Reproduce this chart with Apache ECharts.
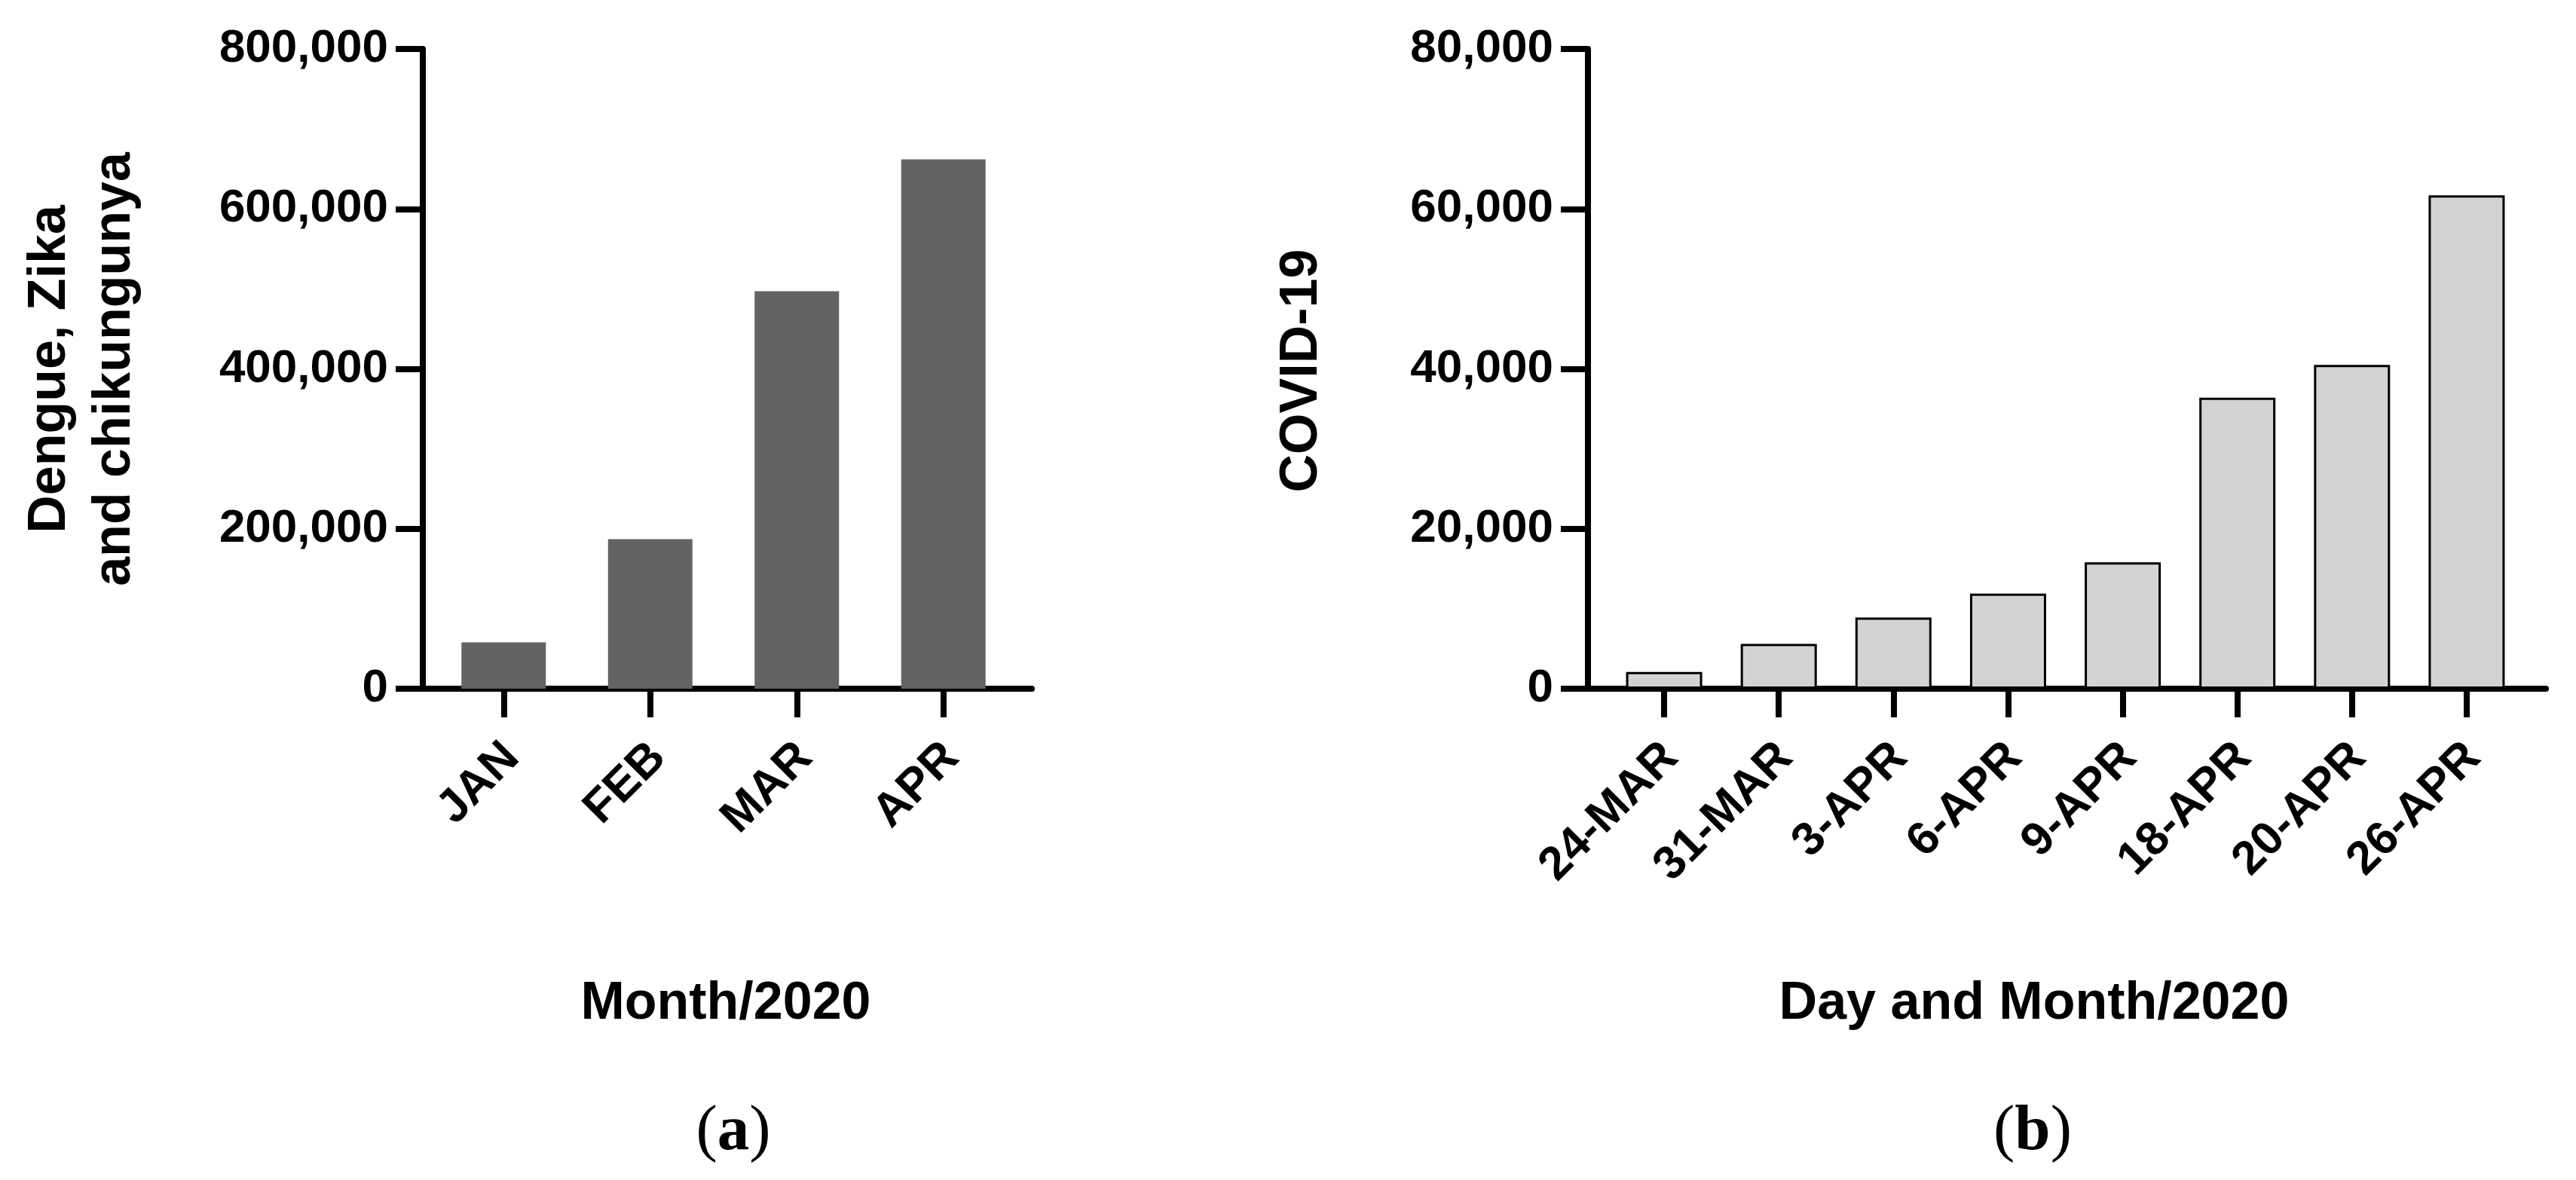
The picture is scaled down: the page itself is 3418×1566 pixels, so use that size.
<!DOCTYPE html>
<html>
<head>
<meta charset="utf-8">
<script src="https://cdn.jsdelivr.net/npm/echarts@6/dist/echarts.min.js"></script>
<style>html,body{margin:0;padding:0;background:#fff;}#c{width:3418px;height:1566px;}</style>
</head>
<body>
<div id="c"></div>
<script>
// ---- data ----
const monthCats = ['JAN', 'FEB', 'MAR', 'APR'];
const arboValues = [58000, 187000, 497000, 662000];
const dayCats = ['24-MAR', '31-MAR', '3-APR', '6-APR', '9-APR', '18-APR', '20-APR', '26-APR'];
const covidValues = [2100, 5600, 8900, 11900, 15800, 36400, 40500, 61700];
const arboAxis = { min: 0, max: 800000, interval: 200000 };
const covidAxis = { min: 0, max: 80000, interval: 20000 };
const yTitleA = 'Dengue, Zika\nand chikungunya';
const yTitleB = 'COVID-19';
const xTitleA = 'Month/2020';
const xTitleB = 'Day and Month/2020';
const panelA = 'a';
const panelB = 'b';

// ---- layout ----
const SANS = '"Liberation Sans", Arial, Helvetica, sans-serif';
const SERIF = '"Liberation Serif", "Times New Roman", serif';
const TOP = 65, H = 849;
const fmt = v => Number(v).toLocaleString('en-US');

function frameX(gi) {
  return { gridIndex: gi, type: 'value', min: 0, max: 1,
    axisLine: { show: true, onZero: false, lineStyle: { color: '#000', width: 8 } },
    axisTick: { show: false }, axisLabel: { show: false }, splitLine: { show: false } };
}
function frameY(gi, ax) {
  return { gridIndex: gi, type: 'value', min: ax.min, max: ax.max, interval: ax.interval,
    axisLine: { show: true, lineStyle: { color: '#000', width: 8 } },
    axisTick: { show: true, inside: false, length: 36, lineStyle: { color: '#000', width: 8 } },
    axisLabel: { show: true, margin: 46, color: '#000', fontFamily: SANS, fontWeight: 'bold', fontSize: 62,
      formatter: fmt },
    splitLine: { show: false } };
}
function plotX(gi, cats) {
  return { gridIndex: gi, type: 'category', data: cats, boundaryGap: true,
    axisLine: { show: false },
    axisTick: { show: true, alignWithLabel: true, inside: false, length: 38, lineStyle: { color: '#000', width: 8 } },
    axisLabel: { show: false }, splitLine: { show: false } };
}
function plotY(gi, ax) {
  return { gridIndex: gi, type: 'value', min: ax.min, max: ax.max, interval: ax.interval, show: false,
    splitLine: { show: false } };
}
function labelX(gi, cats) {
  return { gridIndex: gi, type: 'category', data: cats, boundaryGap: true,
    axisLine: { show: false }, axisTick: { show: false },
    axisLabel: { show: true, interval: 0, rotate: 45, margin: 82, color: '#000',
      fontFamily: SANS, fontWeight: 'bold', fontSize: 62 },
    splitLine: { show: false } };
}
function labelY(gi) {
  return { gridIndex: gi, type: 'value', min: 0, max: 1, show: false, splitLine: { show: false } };
}

const option = {
  backgroundColor: '#fff',
  animation: false,
  grid: [
    { left: 561, width: 808, top: TOP, height: H },
    { left: 571, width: 778, top: TOP, height: H },
    { left: 582, width: 778, top: TOP, height: H },
    { left: 2107, width: 1271, top: TOP, height: H },
    { left: 2132, width: 1217, top: TOP, height: H },
    { left: 2141, width: 1217, top: TOP, height: H }
  ],
  xAxis: [
    frameX(0), plotX(1, monthCats), labelX(2, monthCats),
    frameX(3), plotX(4, dayCats), labelX(5, dayCats)
  ],
  yAxis: [
    frameY(0, arboAxis), plotY(1, arboAxis), labelY(2),
    frameY(3, covidAxis), plotY(4, covidAxis), labelY(5)
  ],
  series: [
    { type: 'bar', xAxisIndex: 1, yAxisIndex: 1, data: arboValues, barWidth: 112,
      itemStyle: { color: '#636363' } },
    { type: 'bar', xAxisIndex: 4, yAxisIndex: 4, data: covidValues, barWidth: 101,
      itemStyle: { color: '#d3d3d3', borderColor: '#000', borderWidth: 3 } }
  ],
  graphic: [
    { type: 'text', x: 110, y: 490, rotation: Math.PI / 2,
      style: { text: yTitleA, textAlign: 'center', textVerticalAlign: 'middle', lineHeight: 86,
        font: 'bold 70px ' + SANS, fill: '#000' } },
    { type: 'text', x: 1728, y: 492, rotation: Math.PI / 2,
      style: { text: yTitleB, textAlign: 'center', textVerticalAlign: 'middle',
        font: 'bold 70px ' + SANS, fill: '#000' } },
    { type: 'text', x: 963, y: 1333,
      style: { text: xTitleA, textAlign: 'center', textVerticalAlign: 'middle',
        font: 'bold 70px ' + SANS, fill: '#000' } },
    { type: 'text', x: 2699, y: 1333,
      style: { text: xTitleB, textAlign: 'center', textVerticalAlign: 'middle',
        font: 'bold 70px ' + SANS, fill: '#000' } },
    { type: 'text', x: 973, y: 1503,
      style: { text: '(' + '{b|' + panelA + '}' + ')', textAlign: 'center', textVerticalAlign: 'middle',
        font: '85px ' + SERIF, fill: '#000',
        rich: { b: { font: 'bold 85px ' + SERIF, fill: '#000' } } } },
    { type: 'text', x: 2697, y: 1503,
      style: { text: '(' + '{b|' + panelB + '}' + ')', textAlign: 'center', textVerticalAlign: 'middle',
        font: '85px ' + SERIF, fill: '#000',
        rich: { b: { font: 'bold 85px ' + SERIF, fill: '#000' } } } }
  ]
};
const chart = echarts.init(document.getElementById('c'), null, { renderer: 'canvas' });
chart.setOption(option);
</script>
</body>
</html>
